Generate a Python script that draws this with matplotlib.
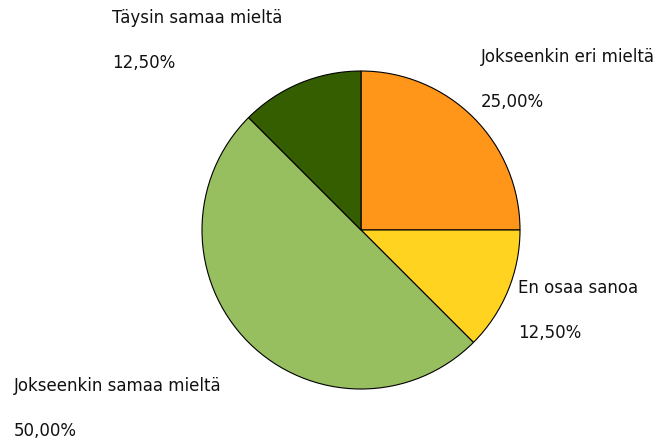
import matplotlib.pyplot as plt

# data
labels = ['Jokseenkin eri mieltä', 'En osaa sanoa', 'Jokseenkin samaa mieltä', 'Täysin samaa mieltä']
values = [25.0, 12.5, 50.0, 12.5]
colors = ['#FF9519', '#FFD320', '#97BE5F', '#355E00']

plt.rcParams['font.family'] = ['DejaVu Sans']

W, H = 668, 441
fig = plt.figure(figsize=(W / 100, H / 100), dpi=100)
ax = fig.add_axes([0, 0, 1, 1])

ax.pie(values, colors=colors, startangle=90, counterclock=False,
       center=(361, H - 230), radius=159,
       wedgeprops=dict(edgecolor='black', linewidth=0.8))
# pie() resets the limits, so set them afterwards
ax.set_xlim(0, W)
ax.set_ylim(0, H)
ax.set_aspect('equal')
ax.axis('off')

# label positions (x left, y of name line in px from top)
label_pos = [(481, 57), (518, 288), (14, 386), (112, 18)]
for lab, v, (x, y) in zip(labels, values, label_pos):
    pct = ('%.2f%%' % v).replace('.', ',')
    ax.text(x, H - y, lab, fontsize=12, va='center', ha='left', color='#111111')
    ax.text(x, H - y - 45, pct, fontsize=12, va='center', ha='left', color='#111111')

fig.savefig('out.png', dpi=100)
